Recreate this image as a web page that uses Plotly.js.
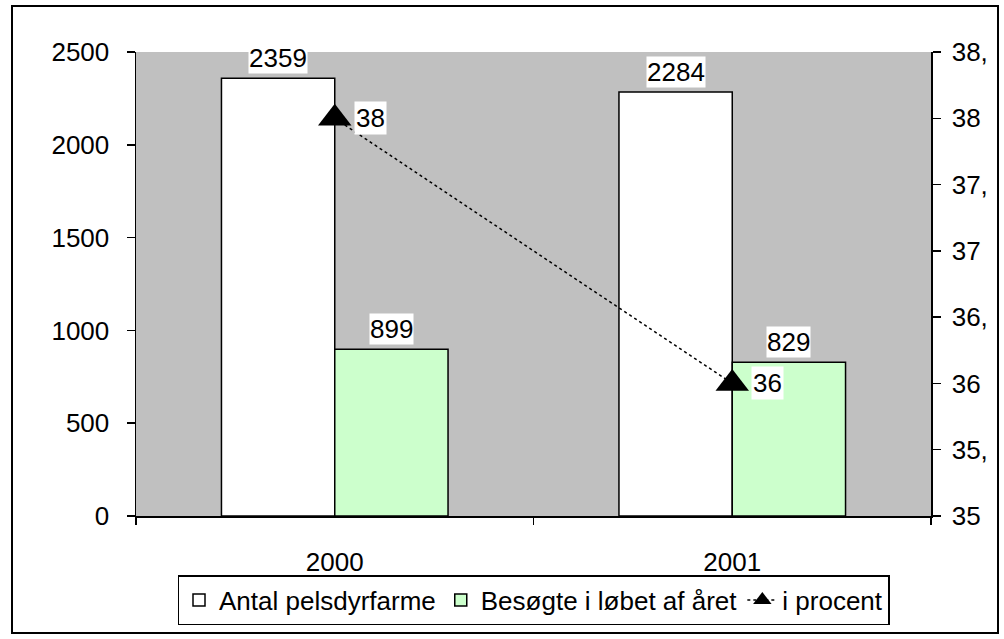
<!DOCTYPE html>
<html>
<head>
<meta charset="utf-8">
<script src="https://cdn.plot.ly/plotly-3.0.1.min.js"></script>
<style>
  html, body { margin: 0; padding: 0; background: #ffffff; }
  #wrap { position: relative; width: 1004px; height: 639px; }
  #chart { width: 1004px; height: 639px; }
  #frame { position: absolute; left: 11px; top: 5px; width: 988px; height: 629px;
           border: 2px solid #000; box-sizing: border-box; pointer-events: none; }
</style>
</head>
<body>
<div id="wrap">
  <div id="chart"></div>
  <div id="frame"></div>
</div>
<script>
// ---- data ----
var chartYears = ["2000", "2001"];
var antalPelsdyrfarme = [2359, 2284];
var besoegteIAaret = [899, 829];
var iProcentValues = [38, 36];
var iProcentLabels = ["38", "36"];
var chartSeriesNames = ["Antal pelsdyrfarme", "Besøgte i løbet af året", "i procent"];
var rightAxisTickVals = [35, 35.5, 36, 36.5, 37, 37.5, 38, 38.5];
var rightAxisTickText = ["35", "35,", "36", "36,", "37", "37,", "38", "38,"];

(function () {
  var fontFam = "Liberation Sans, Arial, sans-serif";
  var fsz = 26;
  var mg = {l: 136, r: 73, t: 52, b: 123};
  var figW = 1004, figH = 639;
  var gapFrac = 0.43;
  var plotWidth = figW - mg.l - mg.r;
  var plotHeight = figH - mg.t - mg.b;
  var catWidth = plotWidth / chartYears.length;
  var barWidth = catWidth * (1 - gapFrac) / 2;

  var data = [
    {
      type: "bar", name: chartSeriesNames[0], x: chartYears, y: antalPelsdyrfarme,
      marker: {color: "#ffffff", line: {color: "#000000", width: 1.5}}
    },
    {
      type: "bar", name: chartSeriesNames[1], x: chartYears, y: besoegteIAaret,
      marker: {color: "#ccffcc", line: {color: "#000000", width: 1.5}}
    },
    {
      type: "scatter", mode: "lines+markers", name: chartSeriesNames[2], x: chartYears, y: iProcentValues,
      yaxis: "y2",
      line: {color: "#000000", width: 1.5, dash: "dot"},
      marker: {symbol: "triangle-up", size: 29, color: "#000000"}
    }
  ];

  // category index positions (numeric-looking category strings would be read as indices)
  var anns = [];
  chartYears.forEach(function (yr, i) {
    anns.push({x: i, y: antalPelsdyrfarme[i], xref: "x", yref: "y", text: String(antalPelsdyrfarme[i]),
      showarrow: false, xshift: -barWidth / 2, yanchor: "bottom", yshift: 4, bgcolor: "#ffffff", borderpad: 0,
      font: {family: fontFam, size: fsz, color: "#000"}});
    anns.push({x: i, y: besoegteIAaret[i], xref: "x", yref: "y", text: String(besoegteIAaret[i]),
      showarrow: false, xshift: barWidth / 2, yanchor: "bottom", yshift: 4, bgcolor: "#ffffff", borderpad: 0,
      font: {family: fontFam, size: fsz, color: "#000"}});
    anns.push({x: i, y: iProcentValues[i], xref: "x", yref: "y2", text: iProcentLabels[i],
      showarrow: false, xanchor: "left", xshift: 19, yanchor: "middle", bgcolor: "#ffffff", borderpad: 1,
      font: {family: fontFam, size: fsz, color: "#000"}});
  });

  var lay = {
    width: figW, height: figH,
    margin: mg,
    paper_bgcolor: "#ffffff",
    plot_bgcolor: "#c0c0c0",
    font: {family: fontFam, size: fsz, color: "#000000"},
    barmode: "group",
    bargap: gapFrac,
    bargroupgap: 0,
    showlegend: true,
    legend: {
      orientation: "h", x: 0.5, xanchor: "center",
      y: -(625 - (figH - mg.b)) / plotHeight, yanchor: "bottom",
      bgcolor: "#ffffff", bordercolor: "#000000", borderwidth: 1.5,
      font: {family: fontFam, size: 26, color: "#000"}
    },
    xaxis: {
      type: "category", range: [-0.5, chartYears.length - 0.5], autorange: false,
      tickson: "boundaries", ticks: "outside", ticklen: 7, tickwidth: 1.5,
      tickcolor: "#000", showline: true, linecolor: "#000", linewidth: 1.5,
      showgrid: false, zeroline: false, tickangle: 0, ticklabelstandoff: 22,
      tickfont: {family: fontFam, size: fsz, color: "#000"}
    },
    yaxis: {
      range: [0, 2500], autorange: false, dtick: 500, tick0: 0, ticks: "outside", ticklen: 8, tickwidth: 1.5,
      tickcolor: "#000", showline: true, linecolor: "#000", linewidth: 1.5,
      showgrid: false, zeroline: false, ticklabelstandoff: 12,
      tickfont: {family: fontFam, size: fsz, color: "#000"}
    },
    yaxis2: {
      overlaying: "y", side: "right", range: [35, 38.5], autorange: false,
      tickvals: rightAxisTickVals, ticktext: rightAxisTickText,
      ticks: "outside", ticklen: 8, tickwidth: 1.5, tickcolor: "#000",
      showline: true, linecolor: "#000", linewidth: 1.5,
      showgrid: false, zeroline: false, ticklabelstandoff: 6,
      tickfont: {family: fontFam, size: fsz, color: "#000"}
    },
    yaxis3: {
      overlaying: "y", side: "right", anchor: "x", range: [35, 38.5], autorange: false,
      tickvals: rightAxisTickVals, showticklabels: false,
      ticks: "inside", ticklen: 9, tickwidth: 1.5, tickcolor: "#000",
      showline: false, showgrid: false, zeroline: false
    },
    annotations: anns
  };

  Plotly.newPlot("chart", data, lay, {staticPlot: true});
})();
</script>
</body>
</html>
